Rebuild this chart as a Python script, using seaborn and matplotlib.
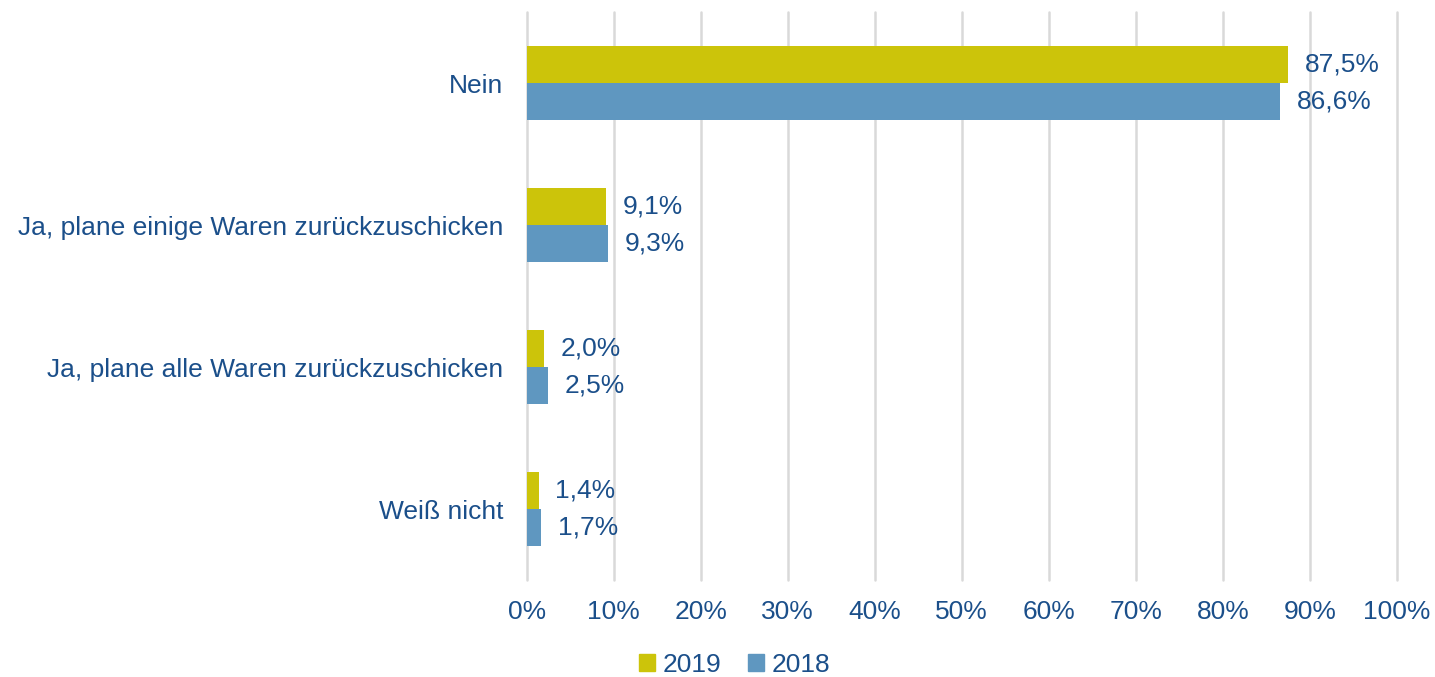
import pandas as pd
import matplotlib.pyplot as plt
import seaborn as sns

# values
categories = ["Nein", "Ja, plane einige Waren zurückzuschicken",
              "Ja, plane alle Waren zurückzuschicken", "Weiß nicht"]
years = ["2019", "2018"]
values_2019 = [87.5, 9.1, 2.0, 1.4]
values_2018 = [86.6, 9.3, 2.5, 1.7]

df = pd.DataFrame({
    "Kategorie": categories * 2,
    "Jahr": ["2019"] * 4 + ["2018"] * 4,
    "Anteil": values_2019 + values_2018,
})

text_col = "#1B4F8A"
palette = {"2019": "#CCC40A", "2018": "#5F97C0"}

sns.set_style("white")
plt.rcParams["font.family"] = ["Liberation Sans", "DejaVu Sans"]

fig = plt.figure(figsize=(14.35, 6.77), dpi=100)
ax = fig.add_axes([0.367, 0.143, 0.6065, 0.839])

sns.barplot(data=df, y="Kategorie", x="Anteil", hue="Jahr", order=categories,
            hue_order=years, palette=palette, orient="h", width=0.52,
            saturation=1, linewidth=0, ax=ax, legend=False)

for cont in ax.containers:
    ax.bar_label(cont, labels=[f"{v:.1f}%".replace(".", ",") for v in cont.datavalues],
                 padding=12, fontsize=19, color=text_col)

ax.set_xlim(0, 100)
ax.set_ylim(3.5, -0.5)
ax.set_xticks(range(0, 101, 10))
ax.set_xticklabels([f"{t}%" for t in range(0, 101, 10)])
ax.tick_params(axis="x", length=0, pad=14, labelsize=19, labelcolor=text_col)
ax.tick_params(axis="y", length=0, pad=17, labelsize=19, labelcolor=text_col)
ax.set_xlabel("")
ax.set_ylabel("")
ax.grid(axis="x", color="#D9D9D9", linewidth=1.8)
for gl in ax.get_xgridlines():
    gl.set_clip_on(False)
ax.set_axisbelow(True)
for s in ax.spines.values():
    s.set_visible(False)

handles = [plt.Rectangle((0, 0), 1, 1, color=palette[y]) for y in years]
fig.legend(handles, years, loc="center", bbox_to_anchor=(0.512, 0.018), ncol=2,
           frameon=False, fontsize=19, labelcolor=text_col, handlelength=0.6,
           handleheight=0.6, handletextpad=0.3, columnspacing=1.0)

fig.savefig("out.png", dpi=100)
